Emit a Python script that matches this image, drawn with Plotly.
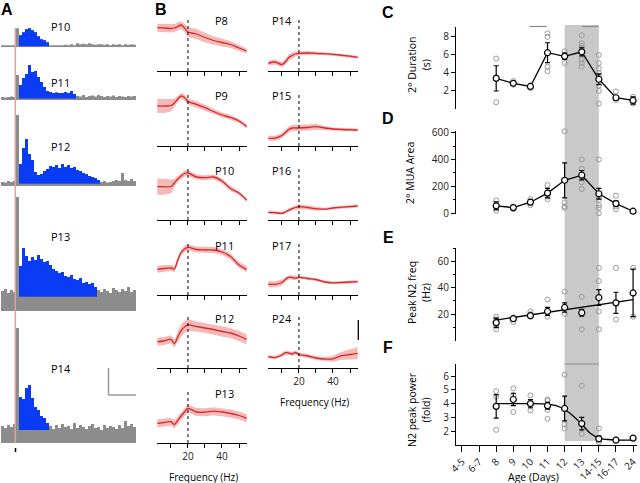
import plotly.graph_objects as go

###############################################################################
# Data
###############################################################################
# Panel A: PSTH bin heights (45 bins, arbitrary count units)
A_LABELS = ['P10', 'P11', 'P12', 'P13', 'P14']
A_P10 = [2, 1.5, 2, 2, 2, 19,
         12, 15, 18, 19, 17, 15, 11, 8, 7, 5,
         2, 2, 1.5, 2, 2, 2.5, 2, 3, 2, 4, 3, 3.5, 3, 4, 3, 2.5, 3, 3, 2.5, 3,
         2, 3, 2.5, 3, 2, 3, 2.5, 3, 2.5]
A_P11 = [3, 2.5, 3, 3.5, 3, 25,
         15, 22, 26, 35, 28, 29, 23, 18, 13, 9, 8, 7, 7.5, 7, 7, 8, 7, 9, 6,
         4, 3.5, 5, 3, 4, 4.5, 3.5, 5, 4, 3, 4, 3.5, 4.5, 3, 4, 3.5, 3, 4, 3.5, 4]
A_P12 = [4, 3.5, 5, 4, 5, 71,
         22, 38, 47, 32, 26, 14, 11, 12, 15, 17, 20, 19, 21, 18, 22, 19, 21, 18,
         19, 16, 15, 13, 12, 10, 9, 8, 6,
         4, 5, 3.5, 4, 5, 6, 5, 13, 6, 5, 7, 5]
A_P13 = [20, 22, 18, 21, 19, 114,
         45, 63, 55, 50, 54, 51, 56, 52, 49, 50, 46, 42, 40, 38, 39, 35, 34, 36,
         32, 31, 33, 28, 29, 27, 28, 24,
         21, 19, 22, 20, 18, 23, 21, 19, 22, 20, 24, 19, 21]
A_P14 = [17, 15, 18, 16, 19, 115,
         46, 44, 55, 58, 45, 36, 33, 27, 25, 20,
         17, 14, 18, 15, 19, 16, 17, 14, 20, 15, 18, 16, 14, 17, 19, 15, 16, 13,
         18, 15, 17, 16, 14, 18, 15, 22, 17, 19, 16]
A_BLUE_START = [6, 6, 6, 6, 6]
A_BLUE_END = [16, 25, 33, 32, 16]
A_THRESH = [1, 1.5, 2.3, 14.3, 13]

# Panel B: normalized spectra (arbitrary units) with SEM band
B_FREQ = [2, 6, 10, 12, 14, 16, 18, 20, 25, 30, 35, 40, 45, 50, 54.5]
B_P8 = [43.3, 43, 42.5, 43, 44.5, 46, 43, 39, 37, 33.5, 30.5, 28.5, 26.5, 23, 20]
B_P8_SE = [4, 4, 4, 4, 4, 4, 4, 5, 5, 5, 4, 4, 3.5, 3, 2.5]
B_P9 = [40, 40, 40.5, 43, 47, 50, 48.5, 44.5, 41.7, 38.3, 34.5, 31, 28.5, 25, 19.5]
B_P9_SE = [7, 7, 6, 4, 3, 3, 3, 3, 3, 3, 2.5, 2.5, 2.5, 2, 2]
B_P10 = [33.3, 33.3, 33.5, 37, 41, 44, 46.5, 47, 43, 42.3, 43, 39, 31.5, 27, 20]
B_P10_SE = [8, 8, 7, 4, 3, 3, 3, 3, 2.5, 2.5, 2.5, 2.5, 2.5, 2, 2]
B_P11 = [25.7, 26.5, 27, 26, 35, 42.5, 46, 47.7, 45.5, 45, 45, 43, 38.5, 30, 25.7]
B_P11_SE = [3.5, 3.5, 3, 3, 3, 3, 3, 3, 3, 3, 3, 3, 3, 3, 3]
B_P12 = [26.3, 27, 28.7, 24.5, 31, 37.5, 41, 43, 41.5, 40, 38.5, 36.5, 35, 32, 28.7]
B_P12_SE = [4, 4, 4, 4, 5, 6, 6, 6, 5, 5, 5, 5, 5, 5, 5]
B_P13 = [19.7, 20.5, 21.3, 18.5, 22.5, 27, 31, 34.5, 31, 30.8, 31.8, 31, 29.5, 27.5, 24.7]
B_P13_SE = [4, 4, 4, 4, 4, 4, 4, 4, 4, 4, 4, 4, 4, 4, 4]
B_P14 = [7.7, 9, 6.5, 9, 13.5, 15.5, 17, 17.7, 18, 17.7, 17.2, 16.7, 15.8, 14.8, 13.7]
B_P14_SE = [2.5, 2.5, 2.5, 3, 3, 3, 2.5, 2, 2, 1.5, 1.5, 1.5, 1.5, 1.5, 1.5]
B_P15 = [7.7, 7.8, 10.5, 13.5, 16.5, 18, 18, 18, 18.5, 19.3, 18, 17, 16.5, 16.2, 16]
B_P15_SE = [2.5, 2.5, 2.5, 2.5, 3, 3, 3, 3, 3, 3, 2, 1.5, 1.5, 1.5, 1.5]
B_P16 = [7.7, 7.3, 6.7, 8, 9.8, 11.3, 12.5, 13.3, 12.5, 11.3, 10.8, 12, 12.8, 13.4, 14]
B_P16_SE = [1.5, 1.5, 1.5, 1.5, 2, 2, 2, 2.5, 2, 2, 1.5, 1.5, 1.5, 1.5, 1.5]
B_P17 = [10.7, 10.7, 12.5, 15.5, 17.7, 17.5, 16.8, 17.7, 16.5, 15.5, 13, 12.2, 12.5, 13, 13.3]
B_P17_SE = [3, 3, 3, 2, 2, 2, 2, 1.5, 1.5, 1.5, 1.5, 1.5, 1.5, 1.5, 1.5]
B_P24 = [11.3, 10.5, 13, 15.3, 15, 14, 15.5, 13.5, 12, 10, 9, 9.2, 12.3, 13.5, 14.7]
B_P24_SE = [1.5, 1.5, 2, 2, 2, 2, 2, 2, 2, 2, 2, 3, 4, 5, 6]
B_TICKS = [10, 20, 30, 40, 50]
B_TICKTEXT = ['', '20', '', '40', '']

# Panels C-F: age groups
AGE_LABELS = ['4-5', '6-7', '8', '9', '10', '11', '12', '13', '14-15', '16-17', '24']
AGE_IDX = [2, 3, 4, 5, 6, 7, 8, 9, 10]

C_MEAN = [3.4, 2.85, 2.5, 6.25, 5.85, 6.35, 3.3, 1.25, 0.95]
C_ERR = [1.4, 0.2, 0.2, 1.1, 0.35, 0.45, 0.6, 0.25, 0.4]
C_PTS = [[5.6, 0.75, 3.5], [3.1, 2.7], [2.6, 2.3], [8.4, 8.0, 4.7, 4.2],
         [6.4, 6.0, 5.1], [8.2, 7.3, 7.0, 6.7, 5.5, 5.1, 4.7],
         [6.0, 5.1, 4.5, 4.0, 3.6, 2.6, 2.0, 0.6], [1.95, 1.0], [1.35, 0.6]]

D_MEAN = [55, 42, 82, 150, 245, 283, 145, 72, 15]
D_ERR = [30, 12, 18, 35, 130, 35, 40, 20, 5]
D_PTS = [[95, 18], [50, 30], [105, 60], [210, 125, 105], [610, 80, 50, 40],
         [400, 330, 270, 230, 180], [400, 120, 100, 60, 40, 0], [130, 50, 30], [15]]

E_MEAN = [13.5, 16.5, 18.8, 22, 25, 21, 32.5, 28.5, 36]
E_ERR = [3.5, 1.5, 1.5, 3, 3.5, 2.5, 6, 8, 18]
E_PTS = [[18, 16, 11, 8.5], [17.5, 14], [22, 20, 18], [31, 18], [37, 20],
         [33, 8.5], [55, 45, 22, 8.5], [55, 16], [55, 18]]
E_FIT_X = [2, 10]
E_FIT_Y = [15.5, 31]

F_MEAN = [3.8, 4.3, 4.0, 3.85, 3.65, 2.55, 1.45, 1.35, 1.5]
F_ERR = [0.85, 0.45, 0.3, 0.25, 0.9, 0.45, 0.2, 0.08, 0.08]
F_PTS = [[4.9, 4.5, 2.1], [5.1, 4.6, 3.4], [4.6, 4.1, 3.5], [4.3, 4.2, 3.55, 2.9],
         [6.1, 2.5, 2.2], [5.3, 1.8], [2.2, 1.5, 1.2], [1.4], [1.5]]
F_FIT_X = [2, 3, 4, 5, 5.5, 6, 6.5, 7, 7.5, 8, 8.5, 9, 10]
F_FIT_Y = [4.0, 4.0, 4.0, 3.96, 3.85, 3.57, 3.1, 2.5, 1.85, 1.5, 1.4, 1.36, 1.35]

###############################################################################
# Layout helpers
###############################################################################
W, H = 640, 483
FONT = 'Open Sans'
TF = dict(family=FONT, size=10, color='#222')
GRAY = '#8c8c8c'
BLUE = '#0a3cf5'
RED = '#d42a2a'
BAND = '#f6b9b9'

fig = go.Figure()
layout = dict(template='none', width=W, height=H, margin=dict(l=0, r=0, t=0, b=0, pad=0),
              paper_bgcolor='white', plot_bgcolor='rgba(0,0,0,0)',
              showlegend=False, barmode='overlay')
shapes, annots = [], []
count = [0]


def new_axes(x0, x1, y0, y1, xr, yr, xkw=None, ykw=None):
    count[0] += 1
    n = count[0]
    sx = '' if n == 1 else str(n)
    base = dict(showgrid=False, zeroline=False, fixedrange=True, visible=False,
                automargin=False)
    xa = dict(base, domain=[x0 / W, x1 / W], range=xr, anchor='y' + sx)
    ya = dict(base, domain=[1 - y1 / H, 1 - y0 / H], range=yr, anchor='x' + sx)
    if xkw:
        xa.update(xkw)
    if ykw:
        ya.update(ykw)
    layout['xaxis' + sx] = xa
    layout['yaxis' + sx] = ya
    return 'x' + sx, 'y' + sx


def text(px, py, s, size=11, xanchor='center', angle=0, bold=False):
    annots.append(dict(x=px / W, y=1 - py / H, xref='paper', yref='paper',
                       text='<b>%s</b>' % s if bold else s, showarrow=False,
                       xanchor=xanchor, yanchor='middle', textangle=angle,
                       font=dict(family='Liberation Sans' if bold else FONT,
                                 size=size, color='black')))


def pline(x0, y0, x1, y1, color='black', width=1, dash=None):
    shapes.append(dict(type='line', xref='paper', yref='paper',
                       x0=x0 / W, x1=x1 / W, y0=1 - y0 / H, y1=1 - y1 / H,
                       line=dict(color=color, width=width, dash=dash)))

###############################################################################
# Panel A
###############################################################################
A_BINS = [A_P10, A_P11, A_P12, A_P13, A_P14]
A_BASE = [47.3, 100, 186, 311, 443]
A_HGT = [22, 38, 73, 116, 117]
A_LAB_Y = [26.5, 82, 146, 236, 368]
for k, h in enumerate(A_BINS):
    xa, ya = new_axes(1, 136, A_BASE[k] - A_HGT[k], A_BASE[k], [0, 45], [0, A_HGT[k]])
    xs = [i + 0.5 for i in range(len(h))]
    fig.add_trace(go.Bar(x=xs, y=h, width=1.02, marker=dict(color=GRAY, line=dict(width=0)),
                         xaxis=xa, yaxis=ya))
    s, e, t = A_BLUE_START[k], A_BLUE_END[k], A_THRESH[k]
    fig.add_trace(go.Bar(x=xs[s:e], y=[v - t for v in h[s:e]], base=t, width=1.02,
                         marker=dict(color=BLUE, line=dict(width=0)),
                         xaxis=xa, yaxis=ya))
    text(49, A_LAB_Y[k], A_LABELS[k], xanchor='left')

pline(15.3, 28, 15.3, 443, color='#e4a0a0', width=1.5)
pline(15.5, 448, 15.5, 452, width=1.5)
pline(108.5, 368, 108.5, 395, color='#9a9a9a', width=1.5)
pline(108.5, 395, 136, 395, color='#9a9a9a', width=1.5)

###############################################################################
# Panel B
###############################################################################
B_LEFT = [('P8', B_P8, B_P8_SE), ('P9', B_P9, B_P9_SE), ('P10', B_P10, B_P10_SE),
          ('P11', B_P11, B_P11_SE), ('P12', B_P12, B_P12_SE), ('P13', B_P13, B_P13_SE)]
B_RIGHT = [('P14', B_P14, B_P14_SE), ('P15', B_P15, B_P15_SE), ('P16', B_P16, B_P16_SE),
           ('P17', B_P17, B_P17_SE), ('P24', B_P24, B_P24_SE)]
B_ROWS = [71, 146, 220, 295, 368, 443]

for col, (curves, x0, x1, labx) in enumerate([(B_LEFT, 157, 247, 213),
                                              (B_RIGHT, 268, 358, 270)]):
    for r, (lab, yv, se) in enumerate(curves):
        bottom = r == len(curves) - 1
        yb = B_ROWS[r]
        xa, ya = new_axes(
            x0, x1, yb - 55, yb, [1.8, 54.7], [0, 55],
            xkw=dict(visible=True, showline=True, linecolor='black', linewidth=1,
                     ticks='outside', ticklen=4, tickcolor='black', tickwidth=1,
                     tickvals=B_TICKS, ticktext=B_TICKTEXT,
                     showticklabels=bottom, tickfont=TF))
        up = [v + s for v, s in zip(yv, se)]
        lo = [v - s for v, s in zip(yv, se)]
        fig.add_trace(go.Scatter(x=B_FREQ + B_FREQ[::-1], y=up + lo[::-1], fill='toself',
                                 fillcolor=BAND, line=dict(width=0), mode='lines',
                                 xaxis=xa, yaxis=ya))
        fig.add_trace(go.Scatter(x=B_FREQ, y=yv, mode='lines', line=dict(color=RED, width=1.3),
                                 line_shape='spline', xaxis=xa, yaxis=ya))
        shapes.append(dict(type='line', xref=xa, yref=ya, x0=20, x1=20, y0=0, y1=53,
                           line=dict(color='black', width=1, dash='dot')))
        text(labx, yb - 50, lab, xanchor='left')
    last = B_ROWS[len(curves) - 1]
    text((x0 + x1) / 2 + 1, last + 34, 'Frequency (Hz)', size=10)

pline(358.3, 320, 358.3, 340, width=1.3)

###############################################################################
# Panels C-F
###############################################################################
CF_XR = [-0.35, 10.23]
AX = dict(visible=True, showline=True, linecolor='black', linewidth=1, ticks='outside',
          ticklen=4, tickcolor='black', tickfont=TF)
PANELS = [
    (27, 109, [0, 9.1], dict(tickvals=[2, 4, 6, 8]), C_MEAN, C_ERR, C_PTS, True),
    (131, 213.5, [-2, 612], dict(tickvals=[0, 200, 400, 600],
                                 minor=dict(tickvals=[100, 300, 500], ticks='outside',
                                            ticklen=2, tickcolor='black')),
     D_MEAN, D_ERR, D_PTS, True),
    (248, 340.5, [0, 70], dict(tickvals=[20, 40, 60],
                               minor=dict(tickvals=[10, 30, 50, 70], ticks='outside',
                                          ticklen=2, tickcolor='black')),
     E_MEAN, E_ERR, E_PTS, False),
    (364.3, 445, [1, 6.85], dict(tickvals=[2, 3, 4, 5, 6]), F_MEAN, F_ERR, F_PTS, False),
]
cf_axes = []
for k, (y0, y1, yr, ykw, mean, err, pts, connect) in enumerate(PANELS):
    xkw = None
    if k == 3:
        xkw = dict(AX, ticklen=6, tickvals=list(range(len(AGE_LABELS))),
                   ticktext=AGE_LABELS, tickangle=-45)
    xa, ya = new_axes(456, 637, y0, y1, CF_XR, yr, xkw=xkw, ykw=dict(AX, **ykw))
    cf_axes.append((xa, ya))
    px = [i for i, p in zip(AGE_IDX, pts) for _ in p]
    py = [v for p in pts for v in p]
    fig.add_trace(go.Scatter(x=px, y=py, mode='markers', cliponaxis=False,
                             marker=dict(symbol='circle-open', size=5, color='#9a9a9a',
                                         line=dict(width=1)),
                             xaxis=xa, yaxis=ya))
    if k == 2:
        fig.add_trace(go.Scatter(x=E_FIT_X, y=E_FIT_Y, mode='lines',
                                 line=dict(color='black', width=1.3), xaxis=xa, yaxis=ya))
    if k == 3:
        fig.add_trace(go.Scatter(x=F_FIT_X, y=F_FIT_Y, mode='lines', line_shape='spline',
                                 line=dict(color='black', width=1.3), xaxis=xa, yaxis=ya))
    fig.add_trace(go.Scatter(
        x=AGE_IDX, y=mean, mode='lines+markers' if connect else 'markers', cliponaxis=False,
        line=dict(color='black', width=1.3),
        marker=dict(symbol='circle', size=6, color='white', line=dict(color='black', width=1.2)),
        error_y=dict(type='data', array=err, color='black', thickness=1.2, width=2.5),
        xaxis=xa, yaxis=ya))

fx = cf_axes[3][0]
shapes.insert(0, dict(type='rect', xref=fx, yref='paper', x0=6, x1=8,
                      y0=1 - 441 / H, y1=1 - 25 / H, fillcolor='#c9c9c9',
                      line=dict(width=0), layer='below'))
for a, b, yy in [(3.94, 4.95, 26.5), (7.03, 7.97, 26.5), (6, 8, 364)]:
    shapes.append(dict(type='line', xref=fx, yref='paper', x0=a, x1=b,
                       y0=1 - yy / H, y1=1 - yy / H, line=dict(color='#8a8a8a', width=1.2)))

text(419, 65, '2° Duration<br>(s)', size=10.5, angle=-90)
text(410, 173, '2° MUA Area', size=10.5, angle=-90)
text(419, 293, 'Peak N2 freq<br>(Hz)', size=10.5, angle=-90)
text(419, 410, 'N2 peak power<br>(fold)', size=10.5, angle=-90)
text(533, 477, 'Age (Days)', size=10.5)

# Panel letters
for s, x, y in [('A', 7, 10), ('B', 161, 10), ('C', 388, 13), ('D', 388, 119),
                ('E', 388, 238), ('F', 388, 347)]:
    text(x, y, s, size=16, bold=True)

layout['shapes'] = shapes
layout['annotations'] = annots
fig.update_layout(**layout)
# the page body has a default 8px margin; drop it so the figure fills the window
fig.write_html('out.html', config={'displayModeBar': False},
               post_script="document.body.style.margin='0';document.body.style.overflow='hidden';")
